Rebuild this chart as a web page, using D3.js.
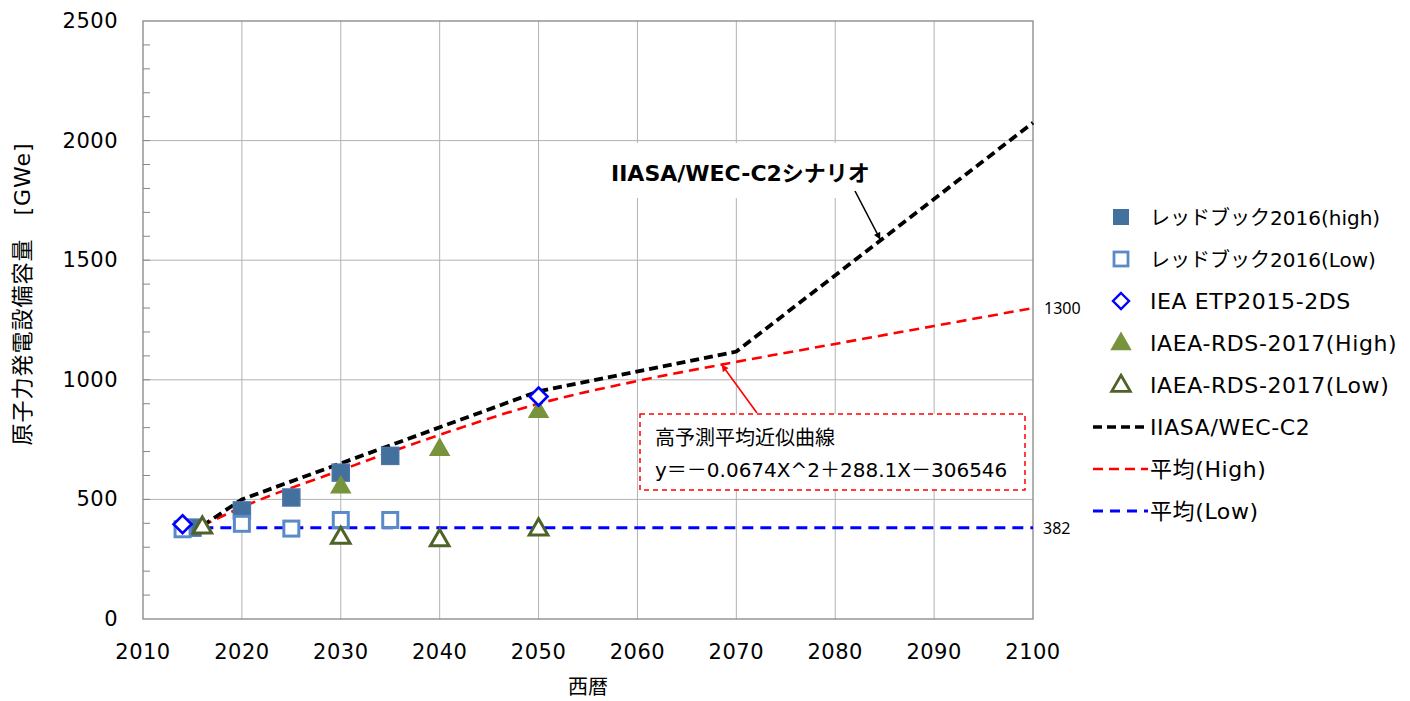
<!DOCTYPE html>
<html>
<head>
<meta charset="utf-8">
<script src="https://cdn.jsdelivr.net/npm/d3@7"></script>
<style>
  body { margin: 0; background: #fff; }
  svg text { font-family: "DejaVu Sans", "Noto Sans CJK JP", sans-serif; fill: #000; }
</style>
</head>
<body>
<div id="chart"></div>
<script>
// ---- data ----
var redbookHigh = [[2015, 382], [2020, 454], [2025, 508], [2030, 612], [2035, 682]];
var redbookLow = [[2014, 375], [2020, 398], [2025, 378], [2030, 414], [2035, 414]];
var ieaEtp = [[2014, 396], [2050, 930]];
var iaeaHigh = [[2016, 386], [2030, 555], [2040, 712], [2050, 870]];
var iaeaLow = [[2016, 386], [2030, 343], [2040, 333], [2050, 378]];
var iiasaC2 = [[2016, 390], [2020, 500], [2050, 952], [2070, 1118], [2100, 2075]];
var avgHigh = [[2016, 390], [2020, 467], [2030, 622], [2040, 770], [2050, 900], [2060, 995],
               [2070, 1075], [2080, 1150], [2090, 1225], [2100, 1300]];
var avgLow = [[2016, 382], [2100, 382]];

var xTicks = [2010, 2020, 2030, 2040, 2050, 2060, 2070, 2080, 2090, 2100];
var yTicks = [0, 500, 1000, 1500, 2000, 2500];
var legendLabels = ["レッドブック2016(high)", "レッドブック2016(Low)", "IEA ETP2015-2DS",
                    "IAEA-RDS-2017(High)", "IAEA-RDS-2017(Low)", "IIASA/WEC-C2", "平均(High)", "平均(Low)"];
var yTitle = "原子力発電設備容量\u3000[GWe]";
var xTitle = "西暦";
var c2Note = "IIASA/WEC-C2シナリオ";
var fitNote = ["高予測平均近似曲線", "y＝－0.0674X^2＋288.1X－306546"];

var W = 1410, H = 701;
var margin = {top: 21, left: 143};
var w = 890, h = 598;

var svg = d3.select('#chart').append('svg')
    .attr('width', W).attr('height', H);

var defs = svg.append('defs');
function arrowHead(id, color) {
    defs.append('marker')
        .attr('id', id)
        .attr('viewBox', '0 0 10 10')
        .attr('refX', 9).attr('refY', 5)
        .attr('markerWidth', 8).attr('markerHeight', 7)
        .attr('markerUnits', 'userSpaceOnUse')
        .attr('orient', 'auto')
      .append('path')
        .attr('d', 'M0,0 L10,5 L0,10 z')
        .attr('fill', color);
}
arrowHead('arrBlack', '#000');
arrowHead('arrRed', '#ff0000');

var g = svg.append('g')
    .attr('transform', 'translate(' + margin.left + ',' + margin.top + ')');

/*
 * scales
 */
var x = d3.scaleLinear().domain([2010, 2100]).range([0, w]);
var y = d3.scaleLinear().domain([0, 2500]).range([h, 0]);

/*
 * grid + frame
 */
g.selectAll('.vgrid').data(xTicks.slice(1, -1)).enter()
  .append('line')
    .attr('x1', d => x(d)).attr('x2', d => x(d))
    .attr('y1', 0).attr('y2', h)
    .attr('stroke', '#b3b3b3').attr('stroke-width', 1);
g.selectAll('.hgrid').data(yTicks.slice(1, -1)).enter()
  .append('line')
    .attr('x1', 0).attr('x2', w)
    .attr('y1', d => y(d)).attr('y2', d => y(d))
    .attr('stroke', '#b3b3b3').attr('stroke-width', 1);
g.append('rect')
    .attr('x', 0).attr('y', 0).attr('width', w).attr('height', h)
    .attr('fill', 'none').attr('stroke', '#868686').attr('stroke-width', 1.3);

// minor ticks on y axis
g.selectAll('.ytick').data(d3.range(100, 2500, 100)).enter()
  .append('line')
    .attr('x1', 0).attr('x2', 7)
    .attr('y1', d => y(d)).attr('y2', d => y(d))
    .attr('stroke', '#868686');

// tick labels
g.selectAll('.ylab').data(yTicks).enter()
  .append('text')
    .attr('x', -25).attr('y', d => y(d) + 7)
    .attr('text-anchor', 'end')
    .style('font-size', '21px').style('letter-spacing', '0.5px')
    .text(d => d);
g.selectAll('.xlab').data(xTicks).enter()
  .append('text')
    .attr('x', d => x(d)).attr('y', h + 40)
    .attr('text-anchor', 'middle')
    .style('font-size', '21px').style('letter-spacing', '0.5px')
    .text(d => d);

svg.append('text')
    .attr('transform', 'translate(30,294) rotate(-90)')
    .attr('text-anchor', 'middle')
    .style('font-size', '22px').style('letter-spacing', '1px')
    .text(yTitle);
svg.append('text')
    .attr('x', 588).attr('y', 694)
    .attr('text-anchor', 'middle')
    .style('font-size', '20px')
    .text(xTitle);

/*
 * annotation boxes (white, hide the grid)
 */
g.append('rect')
    .attr('x', 590 - margin.left).attr('y', 143 - margin.top)
    .attr('width', 295).attr('height', 55)
    .attr('fill', '#fff');

/*
 * lines
 */
var line = d3.line().x(d => x(d[0])).y(d => y(d[1]));
var curve = d3.line().x(d => x(d[0])).y(d => y(d[1])).curve(d3.curveMonotoneX);

g.append('path').datum(avgLow).attr('d', line)
    .attr('fill', 'none').attr('stroke', '#0000ff')
    .attr('stroke-width', 3).attr('stroke-dasharray', '11,7');
g.append('path').datum(avgHigh).attr('d', curve)
    .attr('fill', 'none').attr('stroke', '#ff0000')
    .attr('stroke-width', 2.6).attr('stroke-dasharray', '10,6');
g.append('path').datum(iiasaC2).attr('d', line)
    .attr('fill', 'none').attr('stroke', '#000')
    .attr('stroke-width', 3.8).attr('stroke-dasharray', '9,5');

/*
 * markers
 */
var sq = 17;
g.selectAll('.rbh').data(redbookHigh).enter()
  .append('rect')
    .attr('x', d => x(d[0]) - sq / 2).attr('y', d => y(d[1]) - sq / 2)
    .attr('width', sq).attr('height', sq)
    .attr('fill', '#44709d').attr('stroke', '#4a76a8').attr('stroke-width', 1.5);
g.selectAll('.rbl').data(redbookLow).enter()
  .append('rect')
    .attr('x', d => x(d[0]) - 7.5).attr('y', d => y(d[1]) - 7.5)
    .attr('width', 15).attr('height', 15)
    .attr('fill', '#fff').attr('stroke', '#5b8bc6').attr('stroke-width', 3);

var triUp = d3.symbol().type(d3.symbolTriangle).size(200);
g.selectAll('.iaeah').data(iaeaHigh).enter()
  .append('path')
    .attr('d', triUp)
    .attr('transform', d => 'translate(' + x(d[0]) + ',' + (y(d[1]) + 1) + ')')
    .attr('fill', '#77933c');
var triSmall = d3.symbol().type(d3.symbolTriangle).size(150);
g.selectAll('.iaeal').data(iaeaLow).enter()
  .append('path')
    .attr('d', triSmall)
    .attr('transform', d => 'translate(' + x(d[0]) + ',' + (y(d[1]) + 1) + ')')
    .attr('fill', '#fff').attr('stroke', '#4f6228').attr('stroke-width', 3);

g.selectAll('.iea').data(ieaEtp).enter()
  .append('path')
    .attr('d', 'M0,-9 L9,0 L0,9 L-9,0 Z')
    .attr('transform', d => 'translate(' + x(d[0]) + ',' + y(d[1]) + ')')
    .attr('fill', '#fff').attr('stroke', '#0000ff').attr('stroke-width', 2.6);

/*
 * notes
 */
svg.append('text')
    .attr('x', 611).attr('y', 181)
    .style('font-size', '22px').style('font-weight', 'bold')
    .text(c2Note);
svg.append('line')
    .attr('x1', 855).attr('y1', 191).attr('x2', 880).attr('y2', 239)
    .attr('stroke', '#000').attr('stroke-width', 1.6)
    .attr('marker-end', 'url(#arrBlack)');

svg.append('rect')
    .attr('x', 640).attr('y', 414).attr('width', 385).attr('height', 76)
    .attr('fill', '#fff').attr('stroke', '#ff0000')
    .attr('stroke-width', 1.5).attr('stroke-dasharray', '5,4');
svg.append('line')
    .attr('x1', 757).attr('y1', 413).attr('x2', 722).attr('y2', 365)
    .attr('stroke', '#ff0000').attr('stroke-width', 1.6)
    .attr('marker-end', 'url(#arrRed)');
svg.selectAll('.fit').data(fitNote).enter()
  .append('text')
    .attr('x', 655).attr('y', (d, i) => 445 + i * 32)
    .style('font-size', '20px')
    .text(d => d);

// end labels
var lastHigh = avgHigh[avgHigh.length - 1], lastLow = avgLow[avgLow.length - 1];
svg.append('text')
    .attr('x', margin.left + w + 11).attr('y', margin.top + y(lastHigh[1]) + 6)
    .style('font-size', '16px').style('font-family', 'Noto Sans, sans-serif')
    .text(lastHigh[1]);
svg.append('text')
    .attr('x', margin.left + w + 10).attr('y', margin.top + y(lastLow[1]) + 6)
    .style('font-size', '16px').style('font-family', 'Noto Sans, sans-serif')
    .text(lastLow[1]);

/*
 * legend
 */
var leg = svg.append('g').attr('transform', 'translate(1093,0)');
var legY = d3.scalePoint().domain(legendLabels).range([217, 511]);
var rows = leg.selectAll('.row').data(legendLabels).enter()
  .append('g')
    .attr('transform', d => 'translate(0,' + legY(d) + ')');
var hasKana = d => /[\u30A0-\u30FF]/.test(d);
rows.append('text')
    .attr('x', 57).attr('y', 8)
    .style('font-size', d => hasKana(d) ? '20px' : '22px')
    .style('letter-spacing', d => hasKana(d) ? '0px' : '0.6px')
    .text(d => d);

var r0 = d3.select(rows.nodes()[0]), r1 = d3.select(rows.nodes()[1]);
var r2 = d3.select(rows.nodes()[2]), r3 = d3.select(rows.nodes()[3]);
var r4 = d3.select(rows.nodes()[4]);
r0.append('rect').attr('x', 20).attr('y', -8).attr('width', 16).attr('height', 16)
    .attr('fill', '#44709d');
r1.append('rect').attr('x', 21).attr('y', -7).attr('width', 14).attr('height', 14)
    .attr('fill', '#fff').attr('stroke', '#5b8bc6').attr('stroke-width', 2.8);
r2.append('path').attr('d', 'M0,-8 L8,0 L0,8 L-8,0 Z')
    .attr('transform', 'translate(28,0)')
    .attr('fill', '#fff').attr('stroke', '#0000ff').attr('stroke-width', 2.4);
r3.append('path').attr('d', triUp).attr('transform', 'translate(28,1)')
    .attr('fill', '#77933c');
r4.append('path').attr('d', triSmall).attr('transform', 'translate(28,1)')
    .attr('fill', '#fff').attr('stroke', '#4f6228').attr('stroke-width', 2.8);

var legLines = [
    {row: 5, color: '#000', width: 3.6, dash: '9,5'},
    {row: 6, color: '#ff0000', width: 2.6, dash: '10,6'},
    {row: 7, color: '#0000ff', width: 3, dash: '10,7'}
];
legLines.forEach(function (l) {
    d3.select(rows.nodes()[l.row]).append('line')
        .attr('x1', 0).attr('x2', 55).attr('y1', 0).attr('y2', 0)
        .attr('stroke', l.color).attr('stroke-width', l.width)
        .attr('stroke-dasharray', l.dash);
});
</script>
</body>
</html>
